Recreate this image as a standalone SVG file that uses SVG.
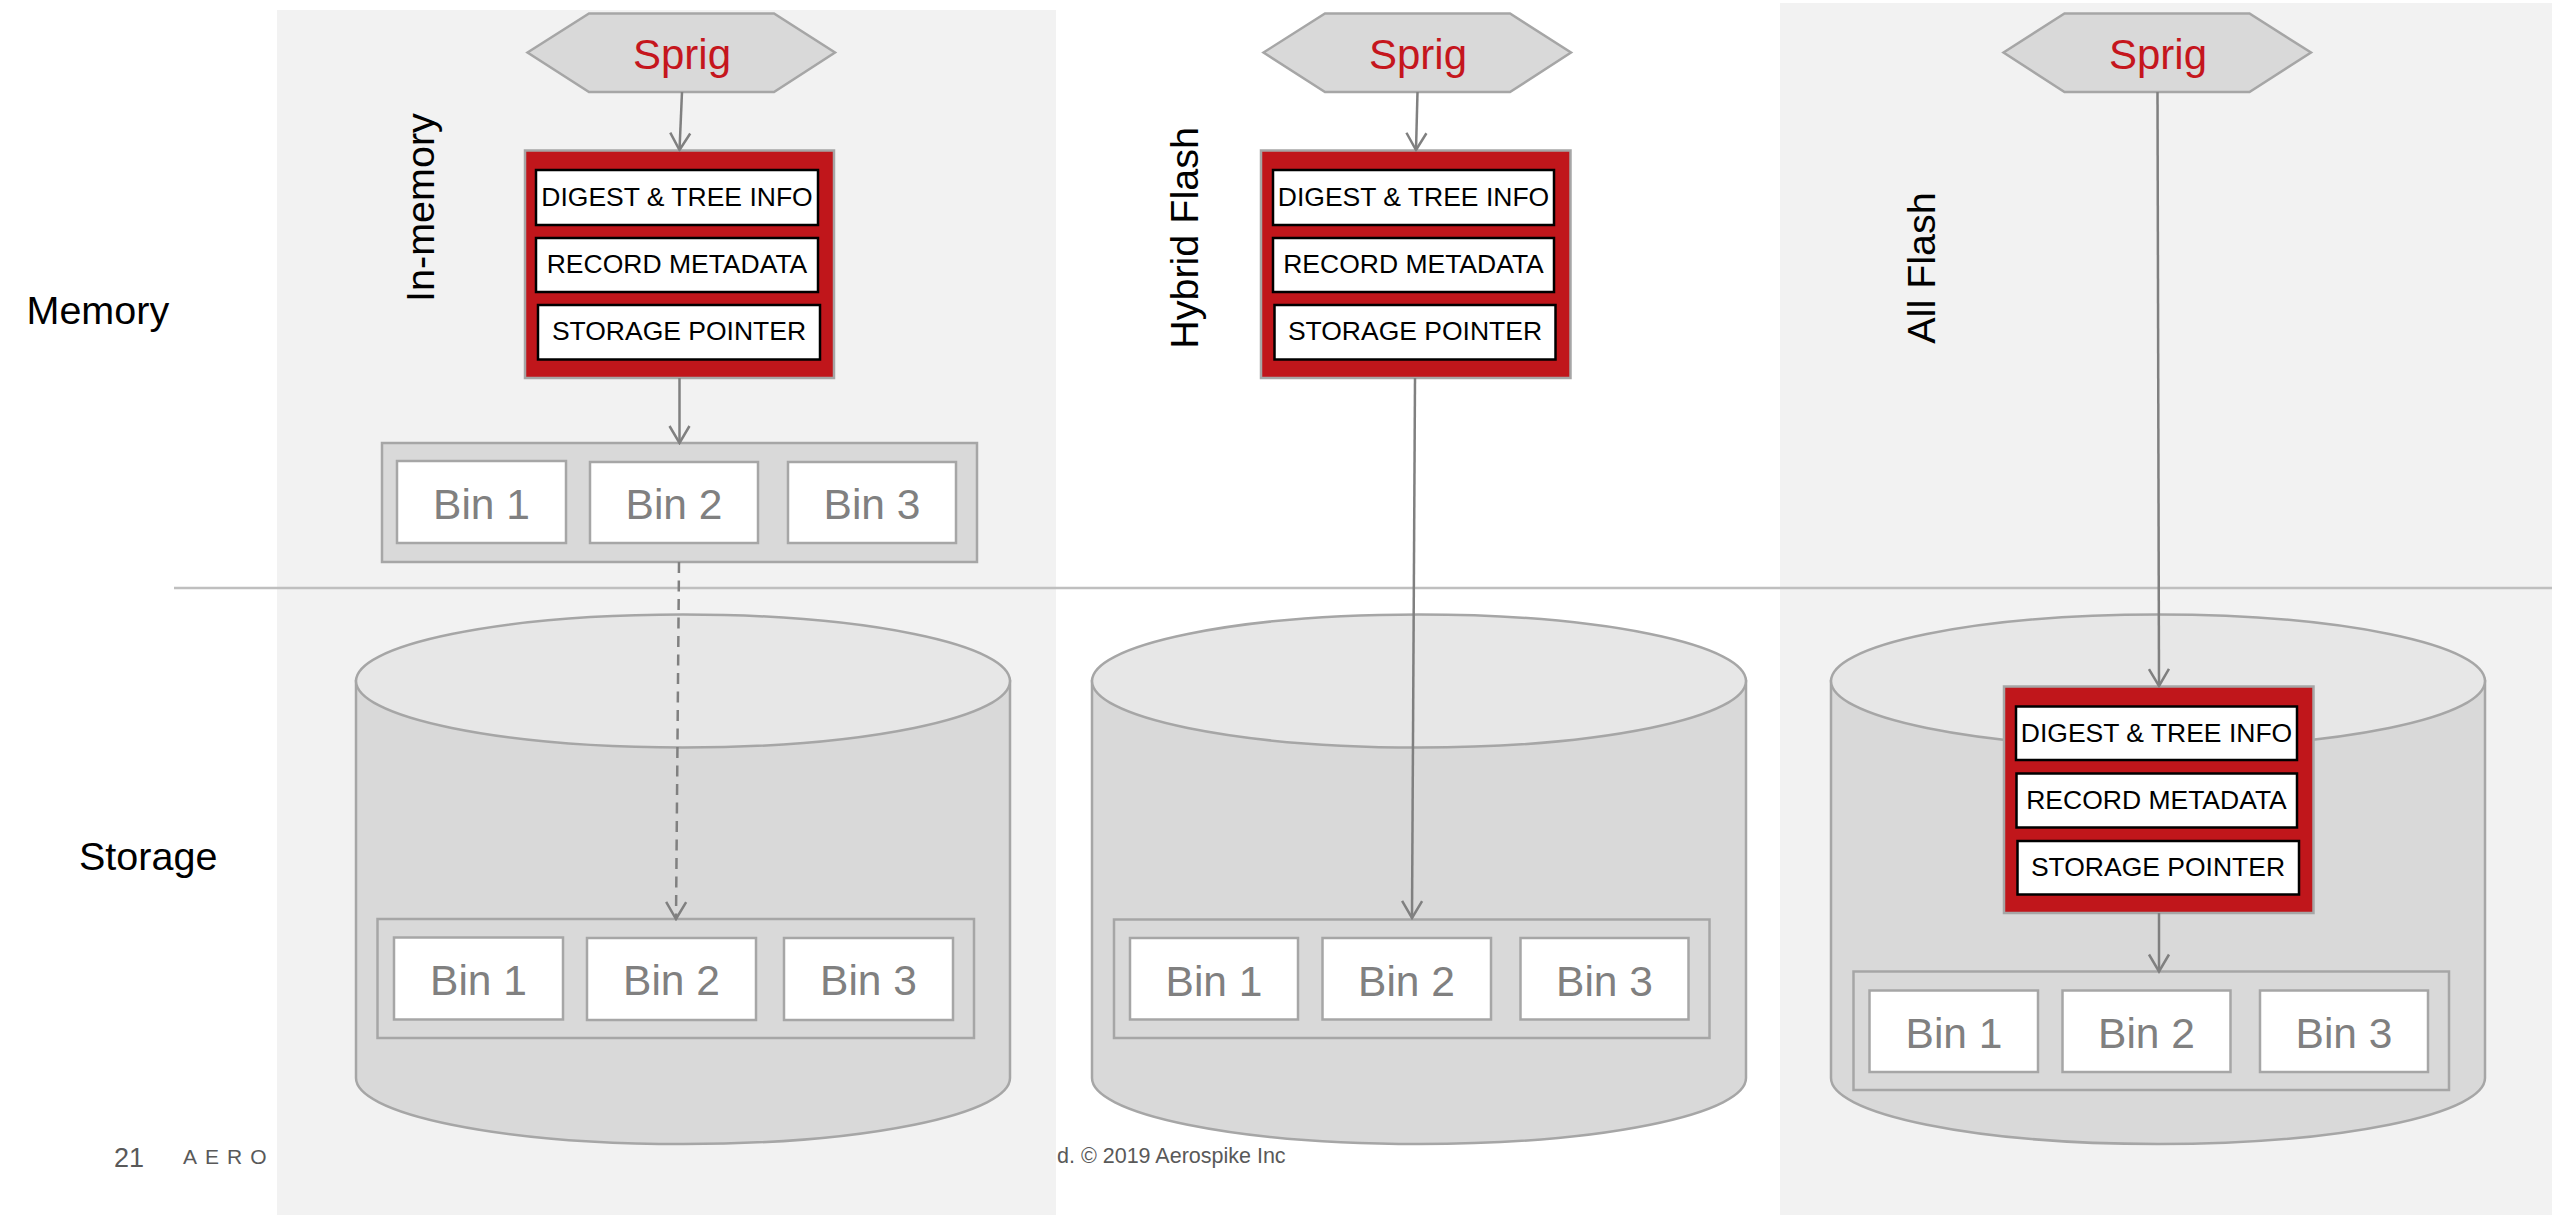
<svg xmlns="http://www.w3.org/2000/svg" width="2552" height="1215" viewBox="0 0 2552 1215">
  <style>
    text { font-family: "Liberation Sans", Arial, sans-serif; }
    .panel { fill: #f2f2f2; }
    .divider { stroke: #bfbfbf; stroke-width: 2.5; fill: none; }
    .label { font-size: 39.5px; fill: #000000; }
    .sprig { fill: #d9d9d9; stroke: #a6a6a6; stroke-width: 2.5; }
    .sprig-text { font-size: 42px; fill: #c5161d; text-anchor: middle; }
    .index { fill: #c0161b; stroke: #a6a6a6; stroke-width: 2.5; }
    .field { fill: #ffffff; stroke: #000000; stroke-width: 2.5; }
    .field-text { font-size: 26.5px; fill: #000000; text-anchor: middle; }
    .record { fill: #d9d9d9; stroke: #a6a6a6; stroke-width: 2.5; }
    .bin { fill: #ffffff; stroke: #a6a6a6; stroke-width: 2.5; }
    .bin-text { font-size: 42.5px; fill: #808080; text-anchor: middle; }
    .cyl-body { fill: #d9d9d9; stroke: #a6a6a6; stroke-width: 2.5; }
    .cyl-top { fill: #e7e7e7; stroke: #a6a6a6; stroke-width: 2.5; }
    .link { stroke: #808080; stroke-width: 2.5; fill: none; }
    .dashed { stroke-dasharray: 11 7.5; }
    .footer { fill: #595959; }
  </style>
  <defs>
    <marker id="open-arrow" markerUnits="userSpaceOnUse" viewBox="-20 -12 22 24" refX="0" refY="0" markerWidth="22" markerHeight="24" orient="auto">
      <path d="M-17,-10 L0,0 L-17,10" fill="none" stroke="#808080" stroke-width="2.5" stroke-dasharray="none"/>
    </marker>
  </defs>

  <!-- white page -->
  <rect x="0" y="0" width="2552" height="1215" fill="#ffffff"/>

  <!-- footer (partly under the panels) -->
  <g id="footer" class="footer">
    <text x="114" y="1166.5" font-size="27">21</text>
    <text x="183" y="1164" font-size="21" letter-spacing="8">AERO</text>
  </g>

  <!-- column backgrounds -->
  <rect id="panel-in-memory" class="panel" x="277" y="10" width="779" height="1205"/>
  <rect id="panel-all-flash" class="panel" x="1780" y="3" width="772" height="1212"/>

  <g id="footer-right" class="footer">
    <text x="1057" y="1163" font-size="21.5">d. © 2019 Aerospike Inc</text>
  </g>

  <!-- memory / storage boundary -->
  <line class="divider" x1="174" y1="588" x2="2552" y2="588"/>

  <!-- row labels -->
  <g id="row-labels">
    <text class="label" x="26.5" y="324">Memory</text>
    <text class="label" x="79" y="870">Storage</text>
  </g>

  <!-- column labels -->
  <g id="column-labels">
    <text class="label" text-anchor="middle" transform="translate(434,207.5) rotate(-90)">In-memory</text>
    <text class="label" text-anchor="middle" transform="translate(1198,238) rotate(-90)">Hybrid Flash</text>
    <text class="label" text-anchor="middle" transform="translate(1935,268) rotate(-90)">All Flash</text>
  </g>

  <!-- storage devices -->
  <g id="cylinder-in-memory">
    <path class="cyl-body" d="M356,681 L356,1078 A327,66 0 0 0 1010,1078 L1010,681 Z"/>
    <ellipse class="cyl-top" cx="683" cy="681" rx="327" ry="66.5"/>
  </g>
  <g id="cylinder-hybrid-flash">
    <path class="cyl-body" d="M1092,681 L1092,1078 A327,66 0 0 0 1746,1078 L1746,681 Z"/>
    <ellipse class="cyl-top" cx="1419" cy="681" rx="327" ry="66.5"/>
  </g>
  <g id="cylinder-all-flash">
    <path class="cyl-body" d="M1831,681 L1831,1078 A327,66 0 0 0 2485,1078 L2485,681 Z"/>
    <ellipse class="cyl-top" cx="2158" cy="681" rx="327" ry="66.5"/>
  </g>

  <!-- sprigs -->
  <g id="sprig-in-memory">
    <polygon class="sprig" points="527.5,52.5 589,13.5 774,13.5 835,52.5 774,92 589,92"/>
    <text class="sprig-text" x="682" y="69">Sprig</text>
  </g>
  <g id="sprig-hybrid-flash">
    <polygon class="sprig" points="1263.5,52.5 1325,13.5 1510,13.5 1571,52.5 1510,92 1325,92"/>
    <text class="sprig-text" x="1418" y="69">Sprig</text>
  </g>
  <g id="sprig-all-flash">
    <polygon class="sprig" points="2003.5,52.5 2064.5,13.5 2249.5,13.5 2311,52.5 2249.5,92 2064.5,92"/>
    <text class="sprig-text" x="2158" y="69">Sprig</text>
  </g>

  <!-- primary index entries -->
  <g id="index-in-memory">
    <rect class="index" x="525" y="150.5" width="309" height="227.5"/>
    <rect class="field" x="536" y="170" width="282" height="55"/>
    <text class="field-text" x="677" y="205.5">DIGEST &amp; TREE INFO</text>
    <rect class="field" x="536" y="238" width="282" height="54"/>
    <text class="field-text" x="677" y="273">RECORD METADATA</text>
    <rect class="field" x="538" y="305" width="282" height="54.5"/>
    <text class="field-text" x="679" y="340">STORAGE POINTER</text>
  </g>
  <g id="index-hybrid-flash">
    <rect class="index" x="1261" y="150.5" width="309.5" height="227.5"/>
    <rect class="field" x="1273" y="170" width="281" height="55"/>
    <text class="field-text" x="1413.5" y="205.5">DIGEST &amp; TREE INFO</text>
    <rect class="field" x="1273" y="238" width="281" height="54"/>
    <text class="field-text" x="1413.5" y="273">RECORD METADATA</text>
    <rect class="field" x="1274.5" y="305" width="281" height="54.5"/>
    <text class="field-text" x="1415" y="340">STORAGE POINTER</text>
  </g>
  <g id="index-all-flash">
    <rect class="index" x="2004" y="686.5" width="309.5" height="226.5"/>
    <rect class="field" x="2016" y="706.5" width="281" height="53.5"/>
    <text class="field-text" x="2156.5" y="741.5">DIGEST &amp; TREE INFO</text>
    <rect class="field" x="2016.5" y="773.5" width="280.5" height="54"/>
    <text class="field-text" x="2156.5" y="808.5">RECORD METADATA</text>
    <rect class="field" x="2017.5" y="841" width="281.5" height="53.5"/>
    <text class="field-text" x="2158" y="876">STORAGE POINTER</text>
  </g>

  <!-- record bins -->
  <g id="bins-memory">
    <rect class="record" x="382" y="443" width="595" height="119"/>
    <rect class="bin" x="397" y="461" width="169" height="82"/>
    <text class="bin-text" x="481.5" y="519">Bin 1</text>
    <rect class="bin" x="590" y="462" width="168" height="81"/>
    <text class="bin-text" x="674" y="519">Bin 2</text>
    <rect class="bin" x="788" y="462" width="168" height="81"/>
    <text class="bin-text" x="872" y="519">Bin 3</text>
  </g>
  <g id="bins-in-memory-storage">
    <rect class="record" x="377.5" y="919" width="596.5" height="119"/>
    <rect class="bin" x="394" y="937.5" width="169" height="82"/>
    <text class="bin-text" x="478.5" y="995">Bin 1</text>
    <rect class="bin" x="587" y="938" width="169" height="82"/>
    <text class="bin-text" x="671.5" y="995">Bin 2</text>
    <rect class="bin" x="784" y="938" width="169" height="82"/>
    <text class="bin-text" x="868.5" y="995">Bin 3</text>
  </g>
  <g id="bins-hybrid-flash">
    <rect class="record" x="1114" y="919.5" width="595.5" height="118.5"/>
    <rect class="bin" x="1130" y="938" width="168" height="81.5"/>
    <text class="bin-text" x="1214" y="995.5">Bin 1</text>
    <rect class="bin" x="1322.5" y="938" width="168.5" height="81.5"/>
    <text class="bin-text" x="1406.5" y="995.5">Bin 2</text>
    <rect class="bin" x="1520.5" y="938" width="168" height="81.5"/>
    <text class="bin-text" x="1604.5" y="995.5">Bin 3</text>
  </g>
  <g id="bins-all-flash">
    <rect class="record" x="1853.5" y="971.5" width="595.5" height="118.5"/>
    <rect class="bin" x="1869.5" y="990.5" width="168.5" height="81.5"/>
    <text class="bin-text" x="1954" y="1047.5">Bin 1</text>
    <rect class="bin" x="2062.5" y="990.5" width="168" height="81.5"/>
    <text class="bin-text" x="2146.5" y="1047.5">Bin 2</text>
    <rect class="bin" x="2260" y="990.5" width="168" height="81.5"/>
    <text class="bin-text" x="2344" y="1047.5">Bin 3</text>
  </g>

  <!-- connectors -->
  <g id="connectors" marker-end="url(#open-arrow)">
    <line class="link" x1="682" y1="92" x2="679.5" y2="150"/>
    <line class="link" x1="679.5" y1="378" x2="679.5" y2="443"/>
    <line class="link dashed" x1="679" y1="562" x2="676" y2="919"/>
    <line class="link" x1="1417.5" y1="92" x2="1416" y2="150"/>
    <line class="link" x1="1415" y1="378" x2="1412" y2="918"/>
    <line class="link" x1="2157.5" y1="92" x2="2159" y2="686"/>
    <line class="link" x1="2159" y1="913" x2="2159" y2="971.5"/>
  </g>
</svg>
